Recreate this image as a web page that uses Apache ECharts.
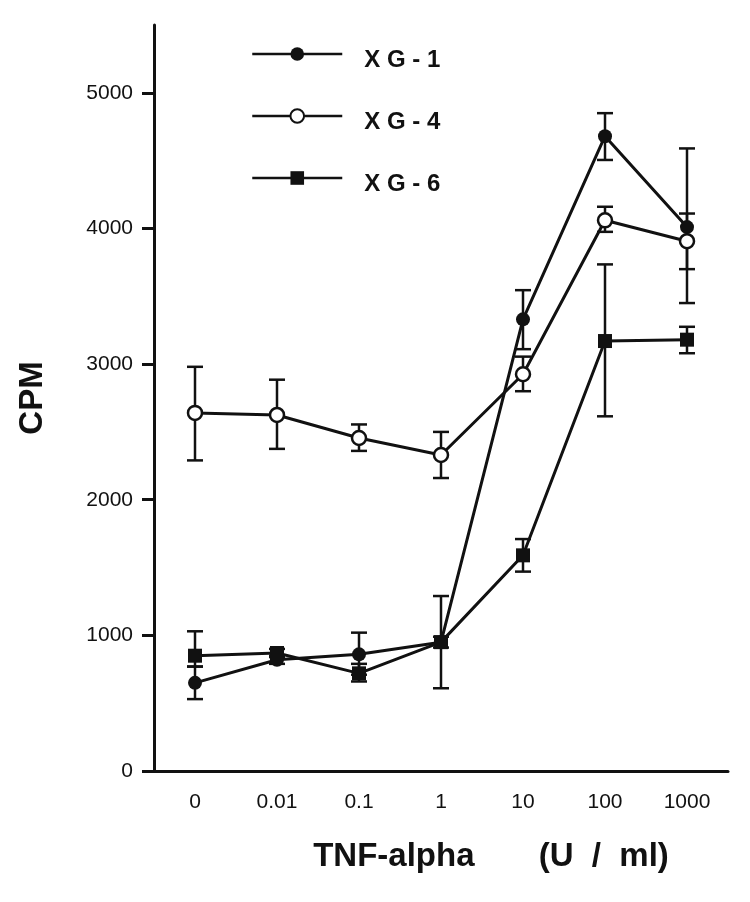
<!DOCTYPE html>
<html>
<head>
<meta charset="utf-8">
<title>TNF-alpha CPM</title>
<script src="https://cdn.jsdelivr.net/npm/echarts@6/dist/echarts.min.js"></script>
<style>
  html, body { margin: 0; padding: 0; background: #fff; }
  #main { width: 750px; height: 902px; }
</style>
</head>
<body>
<div id="main"></div>
<script>
// 横轴：TNF-alpha 浓度 (U/ml)
var categories = ['0', '0.01', '0.1', '1', '10', '100', '1000'];
var yTicks = [0, 1000, 2000, 3000, 4000, 5000];

// XG-1 实心圆
var xg1 = [650, 820, 860, 950, 3330, 4680, 4010];
var xg1Low = [530, 790, 710, 910, 3110, 4505, 3450];
var xg1High = [770, 850, 1020, 990, 3545, 4850, 4590];

// XG-4 空心圆
var xg4 = [2640, 2625, 2455, 2330, 2925, 4060, 3906];
var xg4Low = [2290, 2375, 2360, 2160, 2800, 3975, 3700];
var xg4High = [2980, 2885, 2555, 2500, 3055, 4160, 4110];

// XG-6 实心方块
var xg6 = [850, 870, 720, 950, 1590, 3170, 3180];
var xg6Low = [770, 840, 660, 610, 1470, 2615, 3080];
var xg6High = [1030, 900, 790, 1290, 1710, 3735, 3275];

var ink = '#111';
var font = '"Liberation Sans", Arial, Helvetica, sans-serif';

function errData(low, high) {
    var d = [];
    for (var i = 0; i < low.length; i++) {
        d.push([i, low[i], high[i]]);
    }
    return d;
}

// 误差线：竖线 + 上下短横
function errorItem(params, api) {
    var x = api.value(0);
    var lo = api.coord([x, api.value(1)]);
    var hi = api.coord([x, api.value(2)]);
    var w = 8;
    var st = { stroke: ink, lineWidth: 2.5 };
    return {
        type: 'group',
        children: [
            { type: 'line', shape: { x1: lo[0], y1: lo[1], x2: hi[0], y2: hi[1] }, style: st },
            { type: 'line', shape: { x1: lo[0] - w, y1: lo[1], x2: lo[0] + w, y2: lo[1] }, style: st },
            { type: 'line', shape: { x1: hi[0] - w, y1: hi[1], x2: hi[0] + w, y2: hi[1] }, style: st }
        ]
    };
}

function errSeries(name, low, high) {
    return {
        name: name + ' err',
        type: 'custom',
        renderItem: errorItem,
        data: errData(low, high),
        encode: { x: 0, y: [1, 2] },
        z: 1,
        silent: true
    };
}

function lineSeries(name, data, symbol, fill) {
    return {
        name: name,
        type: 'line',
        data: data,
        symbol: symbol,
        symbolSize: 14,
        z: 3,
        lineStyle: { color: ink, width: 3 },
        itemStyle: { color: fill, borderColor: ink, borderWidth: fill === '#fff' ? 2.5 : 0 }
    };
}

var myChart = echarts.init(document.getElementById('main'));

var option = {
    backgroundColor: '#fff',
    animation: false,
    grid: {
        left: 154,
        right: 22,
        top: 25,
        bottom: 131,
        containLabel: false,
        outerBoundsMode: 'none'
    },
    legend: {
        data: ['XG-1', 'XG-4', 'XG-6'],
        orient: 'vertical',
        left: 246,
        top: 37,
        itemWidth: 90,
        itemHeight: 17,
        itemGap: 32,
        lineStyle: { width: 2.5 },
        // 文字比图例线略低一点
        formatter: function (name) {
            return '{s|}{t|' + name.split('').join(' ') + '}';
        },
        textStyle: {
            color: ink,
            fontFamily: font,
            fontWeight: 'bold',
            fontSize: 24,
            padding: [0, 0, 0, 17],
            rich: {
                s: { height: 36, width: 0 },
                t: {
                    color: ink,
                    fontFamily: font,
                    fontWeight: 'bold',
                    fontSize: 24,
                    lineHeight: 26,
                    verticalAlign: 'bottom'
                }
            }
        }
    },
    xAxis: {
        type: 'category',
        data: categories,
        boundaryGap: true,
        name: 'TNF-alpha       (U  /  ml)',
        nameLocation: 'middle',
        nameGap: 69,
        nameTextStyle: {
            color: ink,
            fontFamily: font,
            fontWeight: 'bold',
            fontSize: 33,
            padding: [0, 0, 0, 100]
        },
        axisLine: { lineStyle: { color: ink, width: 3 } },
        axisTick: { alignWithLabel: true, length: 12, lineStyle: { color: ink, width: 3 } },
        axisLabel: { color: ink, fontFamily: font, fontSize: 21, margin: 21 },
        splitLine: { show: false }
    },
    yAxis: {
        type: 'value',
        min: 0,
        max: 5500,
        interval: 1000,
        name: 'CPM',
        nameLocation: 'middle',
        nameRotate: 90,
        nameGap: 105,
        nameTextStyle: {
            color: ink,
            fontFamily: font,
            fontWeight: 'bold',
            fontSize: 33
        },
        axisLine: { show: true, lineStyle: { color: ink, width: 3 } },
        axisTick: { show: true, length: 12, customValues: yTicks, lineStyle: { color: ink, width: 3 } },
        axisLabel: {
            color: ink, fontFamily: font, fontSize: 21, margin: 21, customValues: yTicks,
            formatter: function (v) { return String(v); }
        },
        splitLine: { show: false }
    },
    series: [
        errSeries('XG-1', xg1Low, xg1High),
        errSeries('XG-4', xg4Low, xg4High),
        errSeries('XG-6', xg6Low, xg6High),
        lineSeries('XG-1', xg1, 'circle', ink),
        lineSeries('XG-4', xg4, 'circle', '#fff'),
        lineSeries('XG-6', xg6, 'rect', ink)
    ]
};

myChart.setOption(option);
</script>
</body>
</html>
